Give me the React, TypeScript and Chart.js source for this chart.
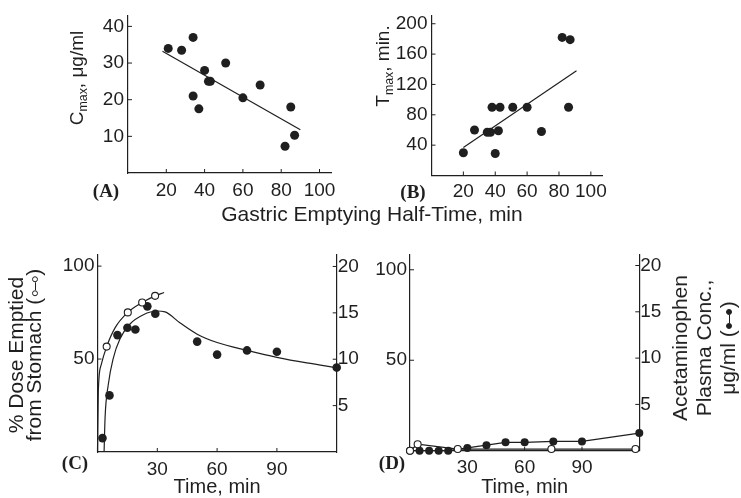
import React, { useEffect, useRef } from 'react';
import { Chart, registerables } from 'chart.js';

Chart.register(...registerables);

const INK = '#1f1f1f';
const SANS = '"Liberation Sans", Arial, Helvetica, sans-serif';
const SERIF = '"Liberation Serif", "Times New Roman", serif';

// ---------- Panel A: Cmax vs gastric emptying half-time ----------
const aHalfTime = [21, 28, 34, 34, 37, 40, 42, 43, 51, 60, 69, 82, 85, 87];
const aCmax = [34, 33.5, 37, 21, 17.5, 28, 25, 25, 30, 20.5, 24, 7.3, 18, 10.3];
const aFitHalfTime = [18, 90];
const aFitCmax = [33.2, 11.8];
const aXTicks = [20, 40, 60, 80, 100];
const aYTicks = [10, 20, 30, 40];

// ---------- Panel B: Tmax vs gastric emptying half-time ----------
const bHalfTime = [20, 27, 35, 37, 38, 40, 42, 43, 51, 60, 69, 82, 87, 86];
const bTmax = [30, 60, 57, 57, 90, 29, 59, 90, 90, 90, 58, 182, 179, 90];
const bFitHalfTime = [20, 91];
const bFitTmax = [37, 138];
const bXTicks = [20, 40, 60, 80, 100];
const bYTicks = [40, 80, 120, 160, 200];

// ---------- Panel C: time course ----------
const cOpenTime = [4.6, 15.2, 22.4, 28.9];
const cOpenPct = [56.7, 75.1, 80.4, 84];
const cOpenFitTime = [0, 0.4, 1.8, 4.6, 8.8, 15.2, 22.4, 28.9, 33.4];
const cOpenFitPct = [0, 32.6, 46.7, 56.7, 66.8, 75.1, 80.4, 84, 85.8];
const cFilledTime = [2.5, 6, 10, 15, 19, 25, 29, 50, 60, 75, 90, 120];
const cFilledConc = [1.5, 6.1, 12.6, 13.4, 13.2, 15.7, 14.9, 11.9, 10.5, 10.95, 10.8, 9.1];
const cFitTime = [3.3, 3.8, 5.4, 7.9, 11.3, 16.3, 23, 29.7, 33.9, 41.5, 50, 60, 75, 90, 105, 120];
const cFitConc = [0, 3.7, 7.25, 10.1, 12.2, 13.8, 14.8, 15.2, 15.1, 13.9, 12.7, 11.8, 10.95, 10.2, 9.6, 9.1];

// ---------- Panel D: time course ----------
const dFilledTime = [0, 5, 10, 15, 20, 30, 40, 50, 60, 75, 90, 120];
const dFilledConc = [0, 0, 0, 0, 0, 0.3, 0.6, 0.9, 0.9, 1.0, 1.0, 1.9];
const dOpenTime = [0, 4, 25, 74, 118];
const dOpenPct = [0, 3.6, 0.9, 0.9, 0.9];

const timeTicks = [30, 60, 90];
const pctTicks = [50, 100];
const concTicks = [5, 10, 15, 20];

const xy = (xs: number[], ys: number[]) => xs.map((x, i) => ({ x, y: ys[i] }));

const inwardTicks = {
  id: 'inwardTicks',
  afterDraw(chart: any) {
    const ctx = chart.ctx;
    ctx.save();
    ctx.strokeStyle = INK;
    ctx.lineWidth = 1;
    const len = 4;
    Object.values(chart.scales).forEach((s: any) => {
      s.ticks.forEach((t: any) => {
        const p = s.getPixelForValue(t.value);
        ctx.beginPath();
        if (s.isHorizontal()) {
          ctx.moveTo(p, s.top);
          ctx.lineTo(p, s.top - len);
        } else if (s.position === 'left') {
          ctx.moveTo(s.right, p);
          ctx.lineTo(s.right + len, p);
        } else {
          ctx.moveTo(s.left, p);
          ctx.lineTo(s.left - len, p);
        }
        ctx.stroke();
      });
    });
    ctx.restore();
  },
};

function scale(o: any) {
  return {
    type: 'linear',
    position: o.position,
    min: o.min,
    max: o.max,
    afterBuildTicks: (s: any) => {
      s.ticks = o.ticks.map((v: number) => ({ value: v }));
    },
    afterFit: (s: any) => {
      if (o.horizontal) s.height = o.size;
      else s.width = o.size;
    },
    grid: { display: false, drawTicks: false },
    border: { display: true, color: INK, width: 1.2 },
    ticks: {
      color: INK,
      font: { family: SANS, size: o.fontSize ?? 19 },
      padding: o.pad ?? 4,
      maxRotation: 0,
      autoSkip: false,
      callback: (v: any) => String(v),
    },
    title: o.title
      ? {
          display: true,
          text: o.title,
          color: INK,
          font: { family: SANS, size: 20, lineHeight: 1 },
          padding: { top: 0, bottom: o.titlePad ?? 1 },
        }
      : { display: false },
  };
}

const dots = (data: any[], filled: boolean, r: number, yAxisID = 'y') => ({
  data,
  yAxisID,
  showLine: false,
  pointRadius: r,
  pointHoverRadius: r,
  pointBackgroundColor: filled ? INK : '#ffffff',
  pointBorderColor: INK,
  pointBorderWidth: filled ? 0 : 1.1,
  clip: false,
});

const curve = (data: any[], smooth: boolean, yAxisID = 'y') => ({
  data,
  yAxisID,
  showLine: true,
  pointRadius: 0,
  pointHoverRadius: 0,
  borderColor: INK,
  borderWidth: 1.2,
  tension: 0,
  cubicInterpolationMode: smooth ? 'monotone' : 'default',
  clip: false,
});

const base = (padding: any, scales: any) => ({
  animation: false,
  responsive: false,
  maintainAspectRatio: false,
  devicePixelRatio: 1,
  events: [],
  layout: { padding: { top: 0, right: 0, bottom: 0, left: 0, ...padding } },
  plugins: { legend: { display: false }, tooltip: { enabled: false } },
  scales,
});

const configA = () => ({
  type: 'scatter',
  data: {
    datasets: [dots(xy(aHalfTime, aCmax), true, 4.5), curve(xy(aFitHalfTime, aFitCmax), false)],
  },
  options: base(
    { top: 13, right: 19 },
    {
      x: scale({ min: 0, max: 106, ticks: aXTicks, size: 27, horizontal: true, position: 'bottom', pad: 6 }),
      y: scale({ min: 0, max: 43, ticks: aYTicks, size: 68, position: 'left', pad: 4 }),
    }
  ),
  plugins: [inwardTicks],
});

const configB = () => ({
  type: 'scatter',
  data: {
    datasets: [dots(xy(bHalfTime, bTmax), true, 4.5), curve(xy(bFitHalfTime, bFitTmax), false)],
  },
  options: base(
    { top: 13, right: 18 },
    {
      x: scale({ min: 0, max: 107, ticks: bXTicks, size: 24.5, horizontal: true, position: 'bottom', pad: 5 }),
      y: scale({ min: 0, max: 211, ticks: bYTicks, size: 51.5, position: 'left', pad: 4 }),
    }
  ),
  plugins: [inwardTicks],
});

const configC = () => ({
  type: 'scatter',
  data: {
    datasets: [
      dots(xy(cOpenTime, cOpenPct), false, 3.5, 'y'),
      dots(xy(cFilledTime, cFilledConc), true, 4.3, 'y2'),
      curve(xy(cOpenFitTime, cOpenFitPct), true, 'y'),
      curve(xy(cFitTime, cFitConc), true, 'y2'),
    ],
  },
  options: base(
    { top: 10 },
    {
      x: scale({ min: 0, max: 120, ticks: timeTicks, size: 46, horizontal: true, position: 'bottom', pad: 6, title: 'Time, min' }),
      y: scale({ min: 0, max: 106.3, ticks: pctTicks, size: 97.5, position: 'left', pad: 3 }),
      y2: scale({ min: 0, max: 21.3, ticks: concTicks, size: 33.3, position: 'right', pad: 1 }),
    }
  ),
  plugins: [inwardTicks],
});

const configD = () => ({
  type: 'scatter',
  data: {
    datasets: [
      dots(xy(dOpenTime, dOpenPct), false, 3.5, 'y'),
      dots(xy(dFilledTime, dFilledConc), true, 4, 'y2'),
      curve(xy(dOpenTime, dOpenPct), false, 'y'),
      curve(xy(dFilledTime, dFilledConc), false, 'y2'),
    ],
  },
  options: base(
    { top: 11 },
    {
      x: scale({ min: 0, max: 120, ticks: timeTicks, size: 47.3, horizontal: true, position: 'bottom', pad: 6, title: 'Time, min' }),
      y: scale({ min: 0, max: 108.5, ticks: pctTicks, size: 40, position: 'left', pad: 3 }),
      y2: scale({ min: 0, max: 21.2, ticks: concTicks, size: 101.7, position: 'right', pad: 1 }),
    }
  ),
  plugins: [inwardTicks],
});

function Panel({ left, top, width, height, config }: any) {
  const ref = useRef<HTMLCanvasElement>(null);
  useEffect(() => {
    const chart = new Chart(ref.current as HTMLCanvasElement, config() as any);
    return () => chart.destroy();
  }, []);
  return (
    <canvas
      ref={ref}
      width={width}
      height={height}
      style={{ position: 'absolute', left, top, width, height }}
    />
  );
}

function Label({ x, y, rotate, style, children }: any) {
  return (
    <div
      style={{
        position: 'absolute',
        left: x,
        top: y,
        transform: `translate(-50%, -50%)${rotate ? ' rotate(-90deg)' : ''}`,
        whiteSpace: 'nowrap',
        color: INK,
        fontFamily: SANS,
        lineHeight: 1,
        textAlign: 'center',
        ...style,
      }}
    >
      {children}
    </div>
  );
}

function Sym({ filled }: { filled: boolean }) {
  const dot = {
    display: 'inline-block',
    width: 6,
    height: 6,
    borderRadius: '50%',
    border: `1.2px solid ${INK}`,
    background: filled ? INK : '#fff',
    boxSizing: 'border-box' as const,
  };
  return (
    <span style={{ display: 'inline-flex', alignItems: 'center', verticalAlign: 'middle', margin: '0 1px' }}>
      <span style={dot} />
      <span style={{ display: 'inline-block', width: 8, height: 1.3, background: INK }} />
      <span style={dot} />
    </span>
  );
}

const sub = { fontSize: '0.65em', verticalAlign: '-0.3em' };
const panelTag = { fontFamily: SERIF, fontWeight: 700, fontSize: 19 };

export default function App() {
  return (
    <div
      style={{
        position: 'fixed',
        left: 0,
        top: 0,
        width: 741,
        height: 498,
        background: '#ffffff',
        overflow: 'hidden',
      }}
    >
      <Panel left={60} top={0} width={290} height={200} config={configA} />
      <Panel left={380} top={0} width={240} height={200} config={configB} />
      <Panel left={0} top={240} width={370} height={258} config={configC} />
      <Panel left={370} top={240} width={371} height={258} config={configD} />

      <Label x={78} y={78} rotate style={{ fontSize: 19 }}>
        C<span style={sub}>max</span>, μg/ml
      </Label>
      <Label x={384} y={66} rotate style={{ fontSize: 19 }}>
        T<span style={sub}>max</span>, min.
      </Label>
      <Label x={106} y={190} style={panelTag}>(A)</Label>
      <Label x={413} y={191} style={panelTag}>(B)</Label>
      <Label x={372} y={213} style={{ fontSize: 21 }}>Gastric Emptying Half-Time, min</Label>

      <Label x={25} y={355} rotate style={{ fontSize: 21, lineHeight: '18px' }}>
        % Dose Emptied
        <br />
        from Stomach (<Sym filled={false} />)
      </Label>
      <Label x={704} y={348} rotate style={{ fontSize: 21, lineHeight: '24px' }}>
        Acetaminophen
        <br />
        Plasma Conc.,
        <br />
        μg/ml (<Sym filled={true} />)
      </Label>
      <Label x={75} y={462} style={panelTag}>(C)</Label>
      <Label x={392} y={462} style={panelTag}>(D)</Label>
    </div>
  );
}
